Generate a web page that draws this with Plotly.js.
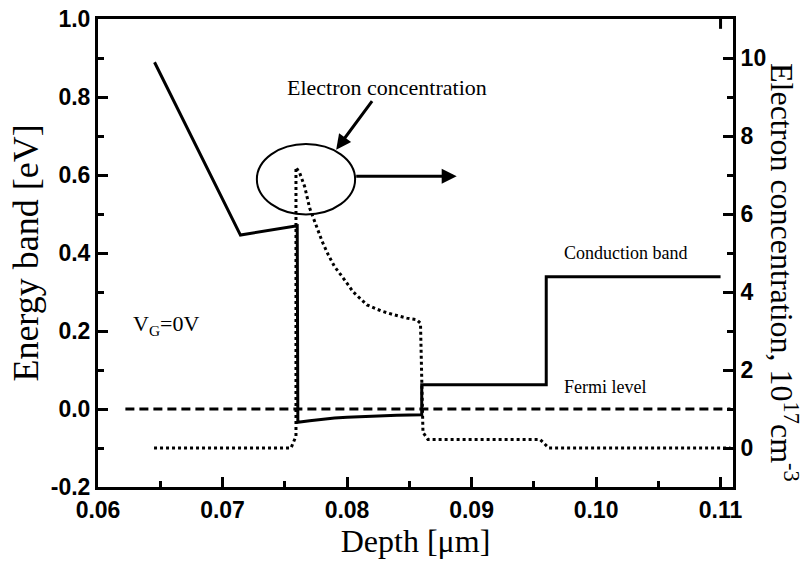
<!DOCTYPE html>
<html>
<head>
<meta charset="utf-8">
<script src="https://cdn.plot.ly/plotly-3.0.1.min.js"></script>
<style>html,body{margin:0;padding:0;background:#fff;}#chart{width:803px;height:564px;}</style>
</head>
<body>
<div id="chart"></div>
<script>
// Conduction band (left axis, eV)
const cbDepth = [0.06454, 0.07144, 0.07600, 0.07605, 0.0770, 0.0780, 0.0790, 0.0800, 0.0820, 0.0840, 0.0860, 0.0860, 0.0960, 0.0960, 0.1100];
const cbEnergy = [0.889, 0.446, 0.470, -0.034, -0.030, -0.026, -0.023, -0.021, -0.018, -0.016, -0.015, 0.062, 0.062, 0.339, 0.339];

// Fermi level (left axis, eV)
const fermiDepth = [0.0622, 0.1108];
const fermiEnergy = [0, 0];

// Electron concentration (right axis, 1e17 cm^-3)
const ecDepth = [0.0645, 0.0755, 0.0759, 0.0759, 0.0762, 0.0766, 0.0770, 0.0775, 0.0780, 0.0785, 0.0790, 0.0796, 0.0805, 0.0816, 0.0827, 0.0837, 0.0848, 0.0856, 0.0859, 0.0861, 0.0865, 0.0955, 0.0962, 0.1108];
const ecConc = [0, 0, 0.3, 7.2, 7.05, 6.7, 6.15, 5.7, 5.3, 4.95, 4.65, 4.4, 4.0, 3.67, 3.52, 3.42, 3.33, 3.29, 3.2, 0.4, 0.22, 0.22, 0, 0];

// Tick labels
const xTickVals = [0.06, 0.07, 0.08, 0.09, 0.10, 0.11];
const xTickText = ['0.06', '0.07', '0.08', '0.09', '0.10', '0.11'];
const yTickVals = [-0.2, 0.0, 0.2, 0.4, 0.6, 0.8, 1.0];
const yTickText = ['-0.2', '0.0', '0.2', '0.4', '0.6', '0.8', '1.0'];
const y2TickVals = [0, 2, 4, 6, 8, 10];
const y2TickText = ['0', '2', '4', '6', '8', '10'];

const tickFont = {family: 'Liberation Sans, Arial, sans-serif', size: 23, color: '#000', weight: 'bold'};
const serif = 'Liberation Serif, Times New Roman, serif';

const traces = [
  {x: cbDepth, y: cbEnergy, type: 'scatter', mode: 'lines', line: {color: '#000', width: 3}, yaxis: 'y', hoverinfo: 'skip'},
  {x: fermiDepth, y: fermiEnergy, type: 'scatter', mode: 'lines', line: {color: '#000', width: 3, dash: '9px,5px'}, yaxis: 'y', hoverinfo: 'skip'},
  {x: ecDepth, y: ecConc, type: 'scatter', mode: 'lines', line: {color: '#000', width: 3, dash: '3px,3px'}, yaxis: 'y2', hoverinfo: 'skip'}
];

const axisCommon = {
  showline: true, linewidth: 3, linecolor: '#000',
  ticks: 'inside', ticklen: 10, tickwidth: 3, tickcolor: '#000',
  showgrid: false, zeroline: false, tickfont: tickFont
};

const layout = {
  width: 803, height: 564,
  margin: {l: 98, r: 70, t: 19, b: 77},
  paper_bgcolor: '#fff', plot_bgcolor: '#fff',
  showlegend: false,
  xaxis: Object.assign({}, axisCommon, {
    range: [0.06, 0.111], tickmode: 'array', tickvals: xTickVals, ticktext: xTickText,
    mirror: true,
    minor: {dtick: 0.005, tick0: 0.06, ticks: 'inside', ticklen: 6, tickwidth: 3, tickcolor: '#000', showgrid: false},
    title: {text: 'Depth [μm]', font: {family: serif, size: 32, color: '#000'}, standoff: 4}
  }),
  yaxis: Object.assign({}, axisCommon, {
    range: [-0.2, 1.0], tickmode: 'array', tickvals: yTickVals, ticktext: yTickText,
    mirror: true,
    minor: {dtick: 0.1, tick0: 0, ticks: 'inside', ticklen: 6, tickwidth: 3, tickcolor: '#000', showgrid: false},
    title: {text: 'Energy band [eV]', font: {family: serif, size: 36, color: '#000'}, standoff: 2}
  }),
  yaxis2: Object.assign({}, axisCommon, {
    overlaying: 'y', side: 'right',
    range: [-1, 11], tickmode: 'array', tickvals: y2TickVals, ticktext: y2TickText,
    minor: {dtick: 1, tick0: 0, ticks: 'inside', ticklen: 6, tickwidth: 3, tickcolor: '#000', showgrid: false}
  }),
  shapes: [
    {type: 'circle', xref: 'x', yref: 'y', x0: 0.07276, x1: 0.08065, y0: 0.4987, y1: 0.6795, line: {color: '#000', width: 2}},
    {type: 'line', xref: 'x', yref: 'paper', x0: 0.11, x1: 0.11, y0: 1, y1: 0.979, line: {color: '#000', width: 3}}
  ],
  annotations: [
    {text: 'Electron concentration', xref: 'paper', yref: 'paper', x: (387 - 98) / 635, y: (487 - 87) / 468, xanchor: 'center', yanchor: 'middle', showarrow: false, font: {family: serif, size: 22, color: '#000'}},
    {text: '', xref: 'x', yref: 'y', x: 0.07913, y: 0.665, ax: 37, ay: -50, showarrow: true, arrowhead: 2, arrowsize: 1, arrowwidth: 3, arrowcolor: '#000', standoff: 0},
    {text: '', xref: 'x', yref: 'y', x: 0.08881, y: 0.5967, ax: -102, ay: 0, showarrow: true, arrowhead: 2, arrowsize: 1, arrowwidth: 3, arrowcolor: '#000', standoff: 0},
    {text: 'Conduction band', xref: 'paper', yref: 'paper', x: (562 - 98) / 635, y: (487 - 253) / 468, xanchor: 'left', yanchor: 'middle', showarrow: false, font: {family: serif, size: 18, color: '#000'}},
    {text: 'Fermi level', xref: 'paper', yref: 'paper', x: (562 - 98) / 635, y: (487 - 387) / 468, xanchor: 'left', yanchor: 'middle', showarrow: false, font: {family: serif, size: 18, color: '#000'}},
    {text: 'V<sub>G</sub>=0V', xref: 'paper', yref: 'paper', x: (131 - 98) / 635, y: (487 - 325) / 468, xanchor: 'left', yanchor: 'middle', showarrow: false, font: {family: serif, size: 22, color: '#000'}},
    {text: 'Electron concentration, 10<sup>17</sup>cm<sup>-3</sup>', xref: 'paper', yref: 'paper', x: (784 - 98) / 635, y: (487 - 273) / 468, xanchor: 'center', yanchor: 'middle', textangle: 90, showarrow: false, font: {family: serif, size: 32, color: '#000'}}
  ]
};

Plotly.newPlot('chart', traces, layout, {staticPlot: true, displayModeBar: false});
</script>
</body>
</html>
